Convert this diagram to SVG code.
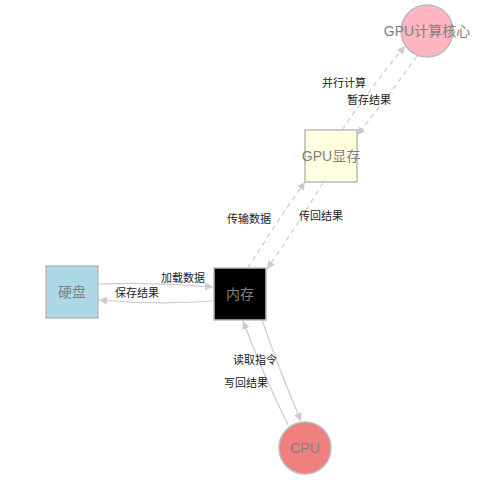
<svg xmlns="http://www.w3.org/2000/svg" width="500" height="480" viewBox="0 0 500 480">
<style>
.node{stroke:#bbbbbb;stroke-width:1.5}
.ntext{font-family:"Liberation Sans","Noto Sans CJK SC",sans-serif;font-size:14px;fill:#808080;text-anchor:middle;dominant-baseline:central}
.elabel{font-family:"Liberation Sans","Noto Sans CJK SC",sans-serif;font-size:11px;fill:#222222;text-anchor:middle;dominant-baseline:central}
.edge{fill:none;stroke:#cccccc;stroke-width:1.2}
.dash{stroke-dasharray:5,4}
</style>
<defs>
<marker id="arr" viewBox="0 0 10 10" refX="10" refY="5" markerWidth="8" markerHeight="8" markerUnits="userSpaceOnUse" orient="auto">
<path d="M0,0 L10,5 L0,10 z" fill="#cccccc"/>
</marker>
</defs>
<rect width="500" height="480" fill="#ffffff"/>
<g id="connectors">
<path class="edge" d="M99,284 Q156,282 213,287" marker-end="url(#arr)"/>
<path class="edge" d="M213,301 Q156,305 99,300" marker-end="url(#arr)"/>
<path class="edge dash" d="M248,268 Q275,224 305,182" marker-end="url(#arr)"/>
<path class="edge dash" d="M323,183 Q296,227 267,269" marker-end="url(#arr)"/>
<path class="edge dash" d="M342,130 Q372,86 405,46" marker-end="url(#arr)"/>
<path class="edge dash" d="M417,56 Q388,97 357,135" marker-end="url(#arr)"/>
<path class="edge" d="M262,320 Q280,372 301,421" marker-end="url(#arr)"/>
<path class="edge" d="M288,425 Q263,374 243,321" marker-end="url(#arr)"/>
</g>
<g id="edge-labels">
<text class="elabel" x="183" y="278">加载数据</text>
<text class="elabel" x="137" y="293">保存结果</text>
<text class="elabel" x="249" y="219">传输数据</text>
<text class="elabel" x="321" y="216">传回结果</text>
<text class="elabel" x="344" y="83">并行计算</text>
<text class="elabel" x="369" y="100">暂存结果</text>
<text class="elabel" x="255" y="360">读取指令</text>
<text class="elabel" x="246" y="383">写回结果</text>
</g>
<g id="node-disk">
<rect class="node" x="46" y="266" width="52" height="52" fill="#add8e6"/>
<text class="ntext" x="72" y="292">硬盘</text>
</g>
<g id="node-mem">
<rect class="node" x="214" y="268" width="52" height="52" fill="#000000"/>
<text class="ntext" x="240" y="294">内存</text>
</g>
<g id="node-gpumem">
<rect class="node" x="305" y="130" width="52" height="52" fill="#ffffe0"/>
<text class="ntext" x="331" y="156">GPU显存</text>
</g>
<g id="node-gpucore">
<circle class="node" cx="427" cy="31" r="26" fill="#ffb6c1"/>
<text class="ntext" x="427" y="31">GPU计算核心</text>
</g>
<g id="node-cpu">
<circle class="node" cx="305" cy="448" r="26" fill="#f08080"/>
<text class="ntext" x="305" y="448">CPU</text>
</g>
</svg>
